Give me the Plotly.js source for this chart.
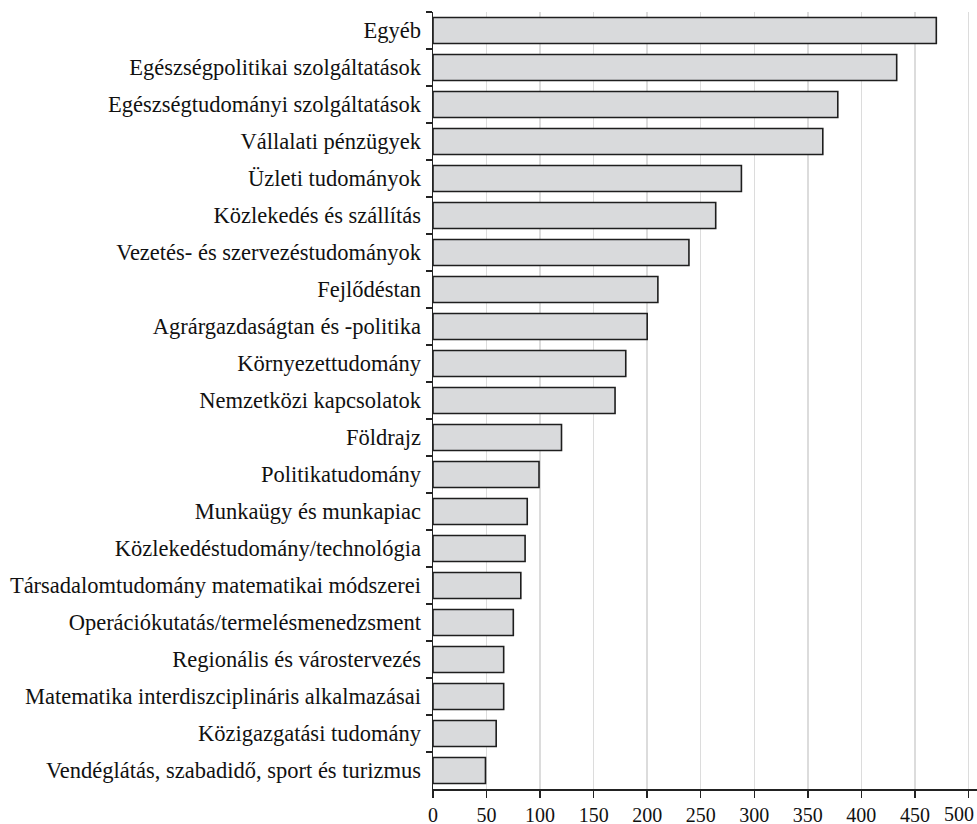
<!DOCTYPE html>
<html>
<head>
<meta charset="utf-8">
<script src="https://cdn.plot.ly/plotly-3.0.1.min.js"></script>
<style>html,body{margin:0;padding:0;background:#fff;}#chart{width:977px;height:824px;}</style>
</head>
<body>
<div id="chart"></div>
<script>
const categories = [
  "Egyéb",
  "Egészségpolitikai szolgáltatások",
  "Egészségtudományi szolgáltatások",
  "Vállalati pénzügyek",
  "Üzleti tudományok",
  "Közlekedés és szállítás",
  "Vezetés- és szervezéstudományok",
  "Fejlődéstan",
  "Agrárgazdaságtan és -politika",
  "Környezettudomány",
  "Nemzetközi kapcsolatok",
  "Földrajz",
  "Politikatudomány",
  "Munkaügy és munkapiac",
  "Közlekedéstudomány/technológia",
  "Társadalomtudomány matematikai módszerei",
  "Operációkutatás/termelésmenedzsment",
  "Regionális és várostervezés",
  "Matematika interdiszciplináris alkalmazásai",
  "Közigazgatási tudomány",
  "Vendéglátás, szabadidő, sport és turizmus"
];
const values = [470, 433, 378, 364, 288, 264, 239, 210, 200, 180, 170, 120, 99, 88, 86, 82, 75, 66, 66, 59, 49];
const xTicks = [0, 50, 100, 150, 200, 250, 300, 350, 400, 450, 500];
// the last tick label sits against the right edge, so it is drawn as an edge-aligned annotation
const xTickText = xTicks.map((v, i) => i === xTicks.length - 1 ? "" : String(v));
const lastTick = xTicks[xTicks.length - 1];

const font = "Liberation Serif, Times New Roman, serif";

Plotly.newPlot("chart", [{
  type: "bar",
  orientation: "h",
  y: categories,
  x: values,
  marker: {color: "#d9dadc", line: {color: "#1e1e1e", width: 1.6}},
  hoverinfo: "x+y"
}], {
  width: 977, height: 824,
  margin: {l: 433, r: 0, t: 12, b: 35},
  paper_bgcolor: "#fff", plot_bgcolor: "#fff",
  bargap: 0.3,
  showlegend: false,
  font: {family: font, size: 20, color: "#111"},
  xaxis: {
    range: [0, 508],
    tickvals: xTicks,
    ticktext: xTickText,
    showgrid: true, gridcolor: "#dcdcdc", gridwidth: 1.5,
    zeroline: false,
    showline: true, linecolor: "#222", linewidth: 1.5,
    ticks: "outside", ticklen: 7, tickcolor: "#222", tickwidth: 1.5,
    tickfont: {family: font, size: 20, color: "#111"}
  },
  yaxis: {
    autorange: "reversed",
    type: "category",
    showgrid: false, zeroline: false,
    showline: true, linecolor: "#222", linewidth: 1.5,
    ticks: "outside", tickson: "boundaries", ticklen: 6, tickcolor: "#222", tickwidth: 1.5,
    ticklabelstandoff: 6,
    tickfont: {family: font, size: 22.5, color: "#111"}
  },
  annotations: [{
    x: lastTick, xref: "x", y: 0, yref: "paper",
    text: String(lastTick), showarrow: false,
    xanchor: "right", yanchor: "middle", xshift: 7, yshift: -25,
    borderpad: 0,
    font: {family: font, size: 20, color: "#111"}
  }]
}, {displayModeBar: false, staticPlot: true});
</script>
</body>
</html>
